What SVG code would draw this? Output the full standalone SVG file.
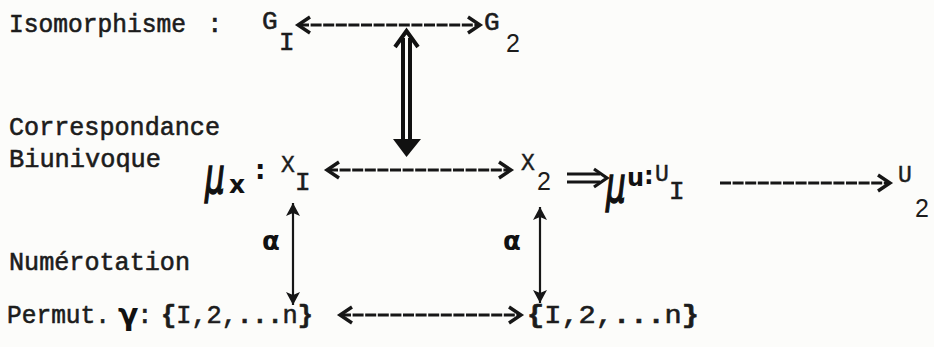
<svg xmlns="http://www.w3.org/2000/svg" width="934" height="347" viewBox="0 0 934 347">
<style>
.t{font-family:"Liberation Mono","DejaVu Sans Mono",monospace;font-size:26px;fill:#1c1c1c;stroke:#1c1c1c;stroke-width:0.6}
.s{font-family:"Liberation Mono","DejaVu Sans Mono",monospace;font-size:23px;fill:#1c1c1c;stroke:#1c1c1c;stroke-width:0.45}
.d{font-family:"Liberation Sans",Arial,sans-serif;font-size:25px;fill:#1c1c1c}
.h{font-family:"DejaVu Sans",sans-serif;font-weight:bold;fill:#111}
.mu{font-family:"DejaVu Sans",sans-serif;font-style:italic;fill:#111;stroke:#111;stroke-width:1.6}
.b{font-weight:bold}
.ln{stroke:#161616;stroke-width:2.8;fill:none;stroke-dasharray:11 1.6}
.vl{stroke:#161616;stroke-width:2.2;fill:none}
.dbl{stroke:#111;stroke-width:4;fill:none}
</style>
<defs>
<marker id="chev" markerUnits="userSpaceOnUse" markerWidth="18" markerHeight="20" refX="14" refY="10" orient="auto-start-reverse" viewBox="0 0 18 20">
<path d="M2,2 L14,10 L2,18" fill="none" stroke="#161616" stroke-width="3.4"/>
</marker>
<marker id="tri" markerUnits="userSpaceOnUse" markerWidth="14" markerHeight="14" refX="13" refY="7" orient="auto-start-reverse" viewBox="0 0 14 14">
<path d="M0,0 L13,7 L0,14 L3,7 Z" fill="#161616"/>
</marker>
</defs>
<rect width="934" height="347" fill="#fcfcfa"/>

<g id="label-isomorphisme">
<text class="t" x="9" y="32" textLength="177" lengthAdjust="spacingAndGlyphs">Isomorphisme</text>
<text class="t" x="207" y="32">:</text>
</g>
<g id="node-g1"><text class="t" x="262" y="29">G</text><text class="t" x="279" y="50">I</text></g>
<g id="node-g2"><text class="t" x="484" y="30">G</text><text class="d" x="506" y="52">2</text></g>

<g id="label-correspondance"><text class="t" x="9" y="135" textLength="211" lengthAdjust="spacingAndGlyphs">Correspondance</text></g>
<g id="label-biunivoque"><text class="t" x="9" y="167" textLength="152" lengthAdjust="spacingAndGlyphs">Biunivoque</text></g>

<g id="node-mux">
<text class="mu" font-size="50" transform="translate(205,193) scale(0.62,1)">μ</text>
<text class="h" font-size="25" x="229" y="193">x</text>
<text class="h" font-size="26" x="255" y="179">:</text>
</g>
<g id="node-x1"><text class="s" x="281" y="172">X</text><text class="t" x="295" y="190">I</text></g>
<g id="node-x2"><text class="s" x="521" y="170">X</text><text class="d" x="537" y="190">2</text></g>

<g id="node-muu">
<text class="mu" font-size="50" transform="translate(606,202) scale(0.62,1)">μ</text>
<text class="h" font-size="24" x="627" y="186">u</text>
<text class="h" font-size="24" x="644" y="184">:</text>
</g>
<g id="node-u1"><text class="s" x="655" y="181">U</text><text class="t" x="669" y="199">I</text></g>
<g id="node-u2"><text class="s" x="898" y="182">U</text><text class="d" font-size="27" x="915" y="217">2</text></g>

<g id="label-numerotation"><text class="t" x="9" y="270" textLength="181" lengthAdjust="spacingAndGlyphs">Numérotation</text></g>
<g id="label-permut">
<text class="t" x="7" y="323" textLength="103" lengthAdjust="spacingAndGlyphs">Permut.</text>
<text class="h" font-size="30" x="118" y="325">γ</text>
<text class="t" x="137" y="323">:</text>
</g>
<g id="node-set1"><text class="t" x="161" y="323" textLength="152" lengthAdjust="spacingAndGlyphs"><tspan class="b">{</tspan>I,2,<tspan class="b">...</tspan>n<tspan class="b">}</tspan></text></g>
<g id="node-set2"><text class="t" x="527" y="323" textLength="172" lengthAdjust="spacingAndGlyphs"><tspan class="b">{</tspan>I,2,<tspan class="b">...</tspan>n<tspan class="b">}</tspan></text></g>

<g id="connectors">
<line class="ln" x1="298" y1="25" x2="480" y2="25" marker-start="url(#chev)" marker-end="url(#chev)"/>
<line class="ln" x1="327" y1="170" x2="511" y2="170" marker-start="url(#chev)" marker-end="url(#chev)"/>
<line class="ln" x1="720" y1="183" x2="890" y2="183" marker-end="url(#chev)"/>
<line class="ln" x1="340" y1="315" x2="521" y2="315" marker-start="url(#chev)" marker-end="url(#chev)"/>
<g id="double-arrow">
<line class="dbl" x1="403" y1="38" x2="403" y2="142"/>
<line class="dbl" x1="410" y1="38" x2="410" y2="142"/>
<path class="dbl" d="M395,47 L406.5,31 L418,47"/>
<path d="M393,139 L421,139 L406.5,157 Z" fill="#111"/>
</g>
<line class="vl" x1="293" y1="203" x2="293" y2="305" marker-start="url(#tri)" marker-end="url(#tri)"/>
<line class="vl" x1="540" y1="207" x2="540" y2="303" marker-start="url(#tri)" marker-end="url(#tri)"/>
<text class="h" font-size="26" x="262" y="250">α</text>
<text class="h" font-size="26" x="503" y="250">α</text>
<g id="implies">
<line x1="567" y1="174" x2="600" y2="174" stroke="#161616" stroke-width="2.8"/>
<line x1="567" y1="182" x2="600" y2="182" stroke="#161616" stroke-width="2.8"/>
<path d="M594,169 L607,178 L594,187" fill="none" stroke="#161616" stroke-width="3.2"/>
</g>
</g>
</svg>
